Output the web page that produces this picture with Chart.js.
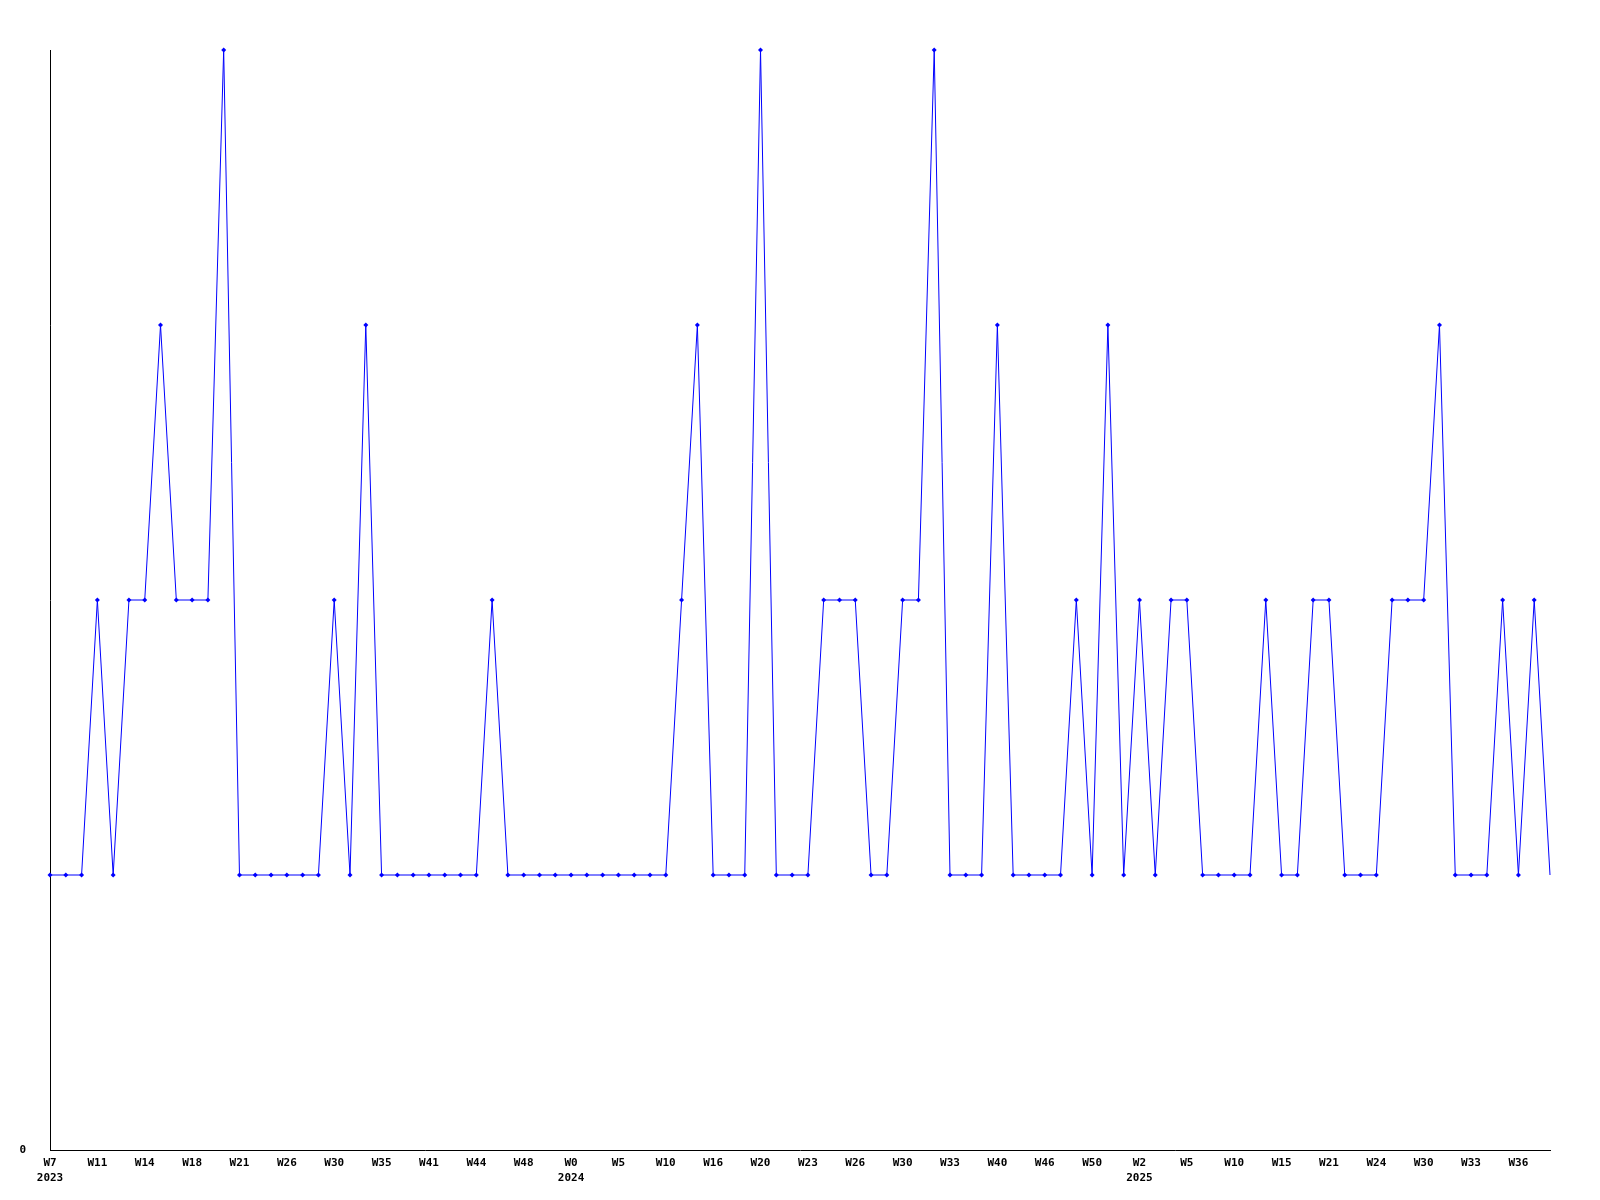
<!DOCTYPE html>
<html>
<head>
<meta charset="utf-8">
<script src="https://cdn.jsdelivr.net/npm/chart.js@4"></script>
<style>
  html, body { margin: 0; padding: 0; background: #fff; }
  #wrap { width: 1600px; height: 1200px; }
</style>
</head>
<body>
<div id="wrap"><canvas id="weekChart" width="1600" height="1200"></canvas></div>
<script>
// tick labels shown every 3rd point
var tickLabels = [
  ["W7", "2023"], "W11", "W14", "W18", "W21", "W26", "W30", "W35", "W41", "W44", "W48",
  ["W0", "2024"], "W5", "W10", "W16", "W20", "W23", "W26", "W30", "W33", "W40", "W46", "W50",
  ["W2", "2025"], "W5", "W10", "W15", "W21", "W24", "W30", "W33", "W36"
];

// one value per week point
var values = [
  1, 1, 1, 2, 1, 2, 2, 3, 2, 2, 2, 4,
  1, 1, 1, 1, 1, 1, 2, 1, 3, 1, 1, 1,
  1, 1, 1, 1, 2, 1, 1, 1, 1, 1, 1, 1,
  1, 1, 1, 1, 2, 3, 1, 1, 1, 4, 1, 1,
  1, 2, 2, 2, 1, 1, 2, 2, 4, 1, 1, 1,
  3, 1, 1, 1, 1, 2, 1, 3, 1, 2, 1, 2,
  2, 1, 1, 1, 1, 2, 1, 1, 2, 2, 1, 1,
  1, 2, 2, 2, 3, 1, 1, 1, 2, 1, 2, 1
];

var yTicks = [0];

// category labels: only every third point carries a tick label
var categories = [];
for (let i = 0; i < values.length; i++) {
    categories.push(i % 3 === 0 ? tickLabels[i / 3] : "");
}

var lastIndex = values.length - 1;

new Chart("weekChart", {
    type: "line",
    data: {
        labels: categories,
        datasets: [{
            data: values,
            borderColor: "#0000ff",
            backgroundColor: "#0000ff",
            borderWidth: 1,
            pointStyle: "rectRot",
            pointRadius: function(ctx){ return ctx.dataIndex === lastIndex ? 0 : 2.5; },
            pointBorderWidth: 0,
            tension: 0,
            clip: false
        }]
    },
    options: {
        responsive: false,
        animation: false,
        layout: {
            padding: { top: 50, right: 50, bottom: 0, left: 0 }
        },
        plugins: {
            legend: { display: false },
            tooltip: { enabled: false }
        },
        scales: {
            x: {
                offset: false,
                grid: { display: false, drawTicks: false },
                border: { display: true, color: "#000", width: 1 },
                ticks: {
                    autoSkip: false,
                    maxRotation: 0,
                    minRotation: 0,
                    padding: 5,
                    color: "#000",
                    font: { family: "DejaVu Sans Mono", size: 11, weight: "bold", lineHeight: 1.4 }
                },
                afterFit: function(scale){ scale.height = 50; }
            },
            y: {
                min: 0,
                max: 4,
                grid: { display: false, drawTicks: false },
                border: { display: true, color: "#000", width: 1 },
                ticks: {
                    stepSize: 1,
                    padding: 24,
                    color: "#000",
                    font: { family: "DejaVu Sans Mono", size: 11, weight: "bold" },
                    callback: function(v){ return yTicks.indexOf(v) > -1 ? String(v) : ""; }
                },
                afterFit: function(scale){ scale.width = 50; }
            }
        }
    }
});
</script>
</body>
</html>
